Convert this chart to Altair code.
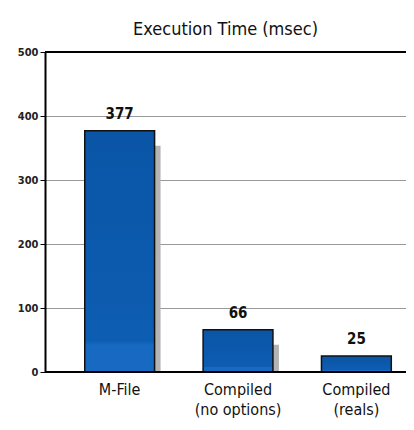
import altair as alt
import pandas as pd

categories = ["M-File", "Compiled|(no options)", "Compiled|(reals)"]
values = [377, 66, 25]
y_ticks = [0, 100, 200, 300, 400, 500]

df = pd.DataFrame({"cat": categories, "val": values})
top_df = pd.DataFrame({"val": [500]})

FONT = "DejaVu Sans Condensed"

xscale = alt.Scale(domain=categories, paddingInner=0.41, paddingOuter=0.23, align=0.73)
yscale = alt.Scale(domain=[0, 500], nice=False)

x_enc = alt.X("cat:N", scale=xscale, sort=categories,
              axis=alt.Axis(title=None, labelAngle=0, domain=False, ticks=False,
                            labelExpr="split(datum.label, '|')",
                            labelFont=FONT, labelFontSize=16, labelColor="#111",
                            labelPadding=9, labelLineHeight=20))
y_enc = alt.Y("val:Q", scale=yscale,
              axis=alt.Axis(title=None, values=y_ticks, grid=True, gridColor="#999",
                            gridWidth=1, domainColor="#000", domainWidth=2,
                            tickColor="#000", tickSize=5, tickWidth=1,
                            labelFont=FONT, labelFontSize=11, labelFontWeight="bold",
                            labelColor="#222", labelPadding=2))

shadow = alt.Chart(df).mark_bar(color="#b4b4b4", xOffset=6, yOffset=15, clip=True).encode(
    x=x_enc, y=y_enc)

bars = alt.Chart(df).mark_bar(
    stroke="#111", strokeWidth=1.5,
    color=alt.Gradient(gradient="linear", x1=0, x2=0, y1=0, y2=1,
                       stops=[alt.GradientStop(offset=0, color="#0a55a6"),
                              alt.GradientStop(offset=0.87, color="#0d5db2"),
                              alt.GradientStop(offset=0.89, color="#1769c2"),
                              alt.GradientStop(offset=1, color="#1769c2")])
).encode(x=x_enc, y=y_enc)

labels = alt.Chart(df).mark_text(dy=-9, font=FONT, fontSize=15, fontWeight="bold",
                                 color="#111", baseline="bottom").encode(
    x=x_enc, y=y_enc, text="val:Q")

toprule = alt.Chart(top_df).mark_rule(color="#000", strokeWidth=2).encode(y=alt.Y("val:Q", scale=yscale))
zerorule = alt.Chart(pd.DataFrame({"val": [0]})).mark_rule(color="#000", strokeWidth=2).encode(
    y=alt.Y("val:Q", scale=yscale))

chart = alt.layer(shadow, bars, toprule, zerorule, labels).properties(
    width=361, height=320,
    title=alt.TitleParams("Execution Time (msec)", font=FONT, fontSize=18,
                          fontWeight="normal", color="#111", offset=7),
    autosize=alt.AutoSizeParams(type="none"),
    padding={"left": 37, "top": 44, "right": 0, "bottom": 58},
).configure_view(stroke=None).configure(background="white")

chart.save("out.html", embed_options={"renderer": "svg", "actions": False})
